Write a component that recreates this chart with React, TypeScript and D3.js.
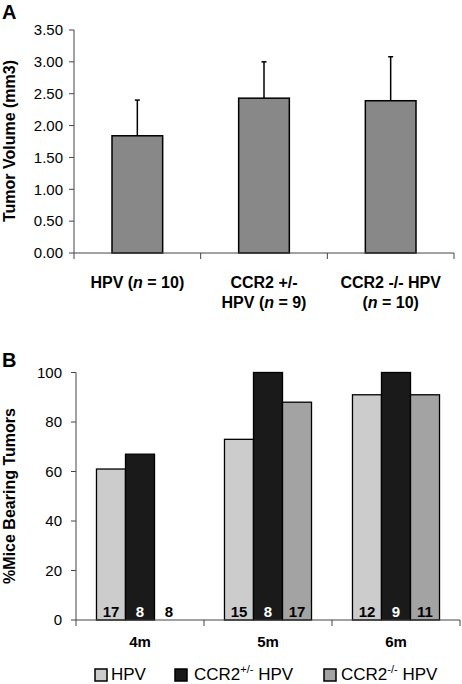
import React from "react";
import * as d3 from "d3";

const groupsA = ["HPV", "CCR2 +/- HPV", "CCR2 -/- HPV"];
const labelLinesA: [string, string, string][][] = [
  [["HPV (", "n", " = 10)"]],
  [["CCR2 +/-", "", ""], ["HPV (", "n", " = 9)"]],
  [["CCR2 -/- HPV", "", ""], ["(", "n", " = 10)"]],
];
const volumeMean = [1.84, 2.43, 2.39];
const volumeErr = [0.56, 0.57, 0.69];
const ticksA = [0, 0.5, 1, 1.5, 2, 2.5, 3, 3.5];

const months = ["4m", "5m", "6m"];
const seriesB = ["HPV", "CCR2+/- HPV", "CCR2-/- HPV"];
const pctHPV = [61, 73, 91];
const pctHet = [67, 100, 100];
const pctKO = [0, 88, 91];
const nHPV = [17, 15, 12];
const nHet = [8, 8, 9];
const nKO = [8, 17, 11];
const ticksB = [0, 20, 40, 60, 80, 100];

const colorsB = ["#cccccc", "#1a1a1a", "#a3a3a3"];
const FONT = "Arial, 'Liberation Sans', sans-serif";

export default function App() {
  // Chart A
  const yA = d3.scaleLinear().domain([0, 3.5]).range([253, 30]);
  const xA = d3.scaleBand().domain(groupsA).range([74, 454]).padding(0);
  const barWA = xA.bandwidth() * 0.4;
  const axisColor = "#444";

  // Chart B
  const yB = d3.scaleLinear().domain([0, 100]).range([620, 372.5]);
  const xB = d3.scaleBand().domain(months).range([76, 460]).paddingInner(0.32).paddingOuter(0.16);
  const xB1 = d3.scaleBand().domain(seriesB).range([0, xB.bandwidth()]);
  const stepB = xB.step();
  const valsB = [pctHPV, pctHet, pctKO];
  const nsB = [nHPV, nHet, nKO];

  return (
    <svg width={462} height={684} style={{ position: "absolute", left: 0, top: 0, background: "#fff" }} fontFamily={FONT}>
      {/* Panel A */}
      <text x={2} y={19} fontSize={20} fontWeight="bold">A</text>
      <text transform="translate(15,141) rotate(-90)" textAnchor="middle" fontSize={16} fontWeight="bold">Tumor Volume (mm3)</text>
      <line x1={74} x2={74} y1={yA(3.5)} y2={yA(0)} stroke={axisColor} strokeWidth={1} />
      {ticksA.map((t) => (
        <g key={t}>
          <line x1={69} x2={74} y1={yA(t)} y2={yA(t)} stroke={axisColor} />
          <text x={63} y={yA(t)} dy="0.35em" textAnchor="end" fontSize={15}>{t.toFixed(2)}</text>
        </g>
      ))}
      {groupsA.map((g, i) => {
        const cx = (xA(g) as number) + xA.bandwidth() / 2;
        return (
          <g key={g}>
            <line x1={cx} x2={cx} y1={yA(volumeMean[i])} y2={yA(volumeMean[i] + volumeErr[i])} stroke="#000" strokeWidth={1.5} />
            <line x1={cx - 2.5} x2={cx + 2.5} y1={yA(volumeMean[i] + volumeErr[i])} y2={yA(volumeMean[i] + volumeErr[i])} stroke="#000" strokeWidth={1.5} />
            <rect x={cx - barWA / 2} y={yA(volumeMean[i])} width={barWA} height={yA(0) - yA(volumeMean[i])} fill="#888888" stroke="#000" strokeWidth={1.5} />
            {labelLinesA[i].map((ln, j) => (
              <text key={j} x={cx} y={288 + j * 20} textAnchor="middle" fontSize={16} fontWeight="bold">
                {ln[0]}
                {ln[1] ? <tspan fontStyle="italic">{ln[1]}</tspan> : null}
                {ln[2]}
              </text>
            ))}
          </g>
        );
      })}
      <line x1={74} x2={454} y1={yA(0)} y2={yA(0)} stroke={axisColor} />
      {[0, 1, 2, 3].map((k) => (
        <line key={k} x1={74 + k * xA.step()} x2={74 + k * xA.step()} y1={yA(0)} y2={yA(0) + 6} stroke={axisColor} />
      ))}

      {/* Panel B */}
      <text x={2} y={367} fontSize={20} fontWeight="bold">B</text>
      <text transform="translate(15,496) rotate(-90)" textAnchor="middle" fontSize={16} fontWeight="bold">%Mice Bearing Tumors</text>
      <line x1={76} x2={76} y1={yB(100)} y2={yB(0)} stroke={axisColor} />
      {ticksB.map((t) => (
        <g key={t}>
          <line x1={71} x2={76} y1={yB(t)} y2={yB(t)} stroke={axisColor} />
          <text x={62} y={yB(t)} dy="0.35em" textAnchor="end" fontSize={15}>{t}</text>
        </g>
      ))}
      {months.map((m, i) => (
        <g key={m} transform={`translate(${xB(m)},0)`}>
          {seriesB.map((s, k) => {
            const v = valsB[k][i];
            const x = xB1(s) as number;
            return (
              <g key={s}>
                {v > 0 ? (
                  <rect x={x} y={yB(v)} width={xB1.bandwidth()} height={yB(0) - yB(v)} fill={colorsB[k]} stroke="#000" strokeWidth={1.3} />
                ) : null}
                <text x={x + xB1.bandwidth() / 2} y={617} textAnchor="middle" fontSize={15} fontWeight="bold" fill={k === 1 && v > 0 ? "#fff" : "#000"}>
                  {nsB[k][i]}
                </text>
              </g>
            );
          })}
          <text x={xB.bandwidth() / 2} y={647} textAnchor="middle" fontSize={15} fontWeight="bold">{m}</text>
        </g>
      ))}
      <line x1={76} x2={460} y1={yB(0)} y2={yB(0)} stroke={axisColor} />
      {[0, 1, 2, 3].map((k) => (
        <line key={k} x1={76 + k * stepB} x2={76 + k * stepB} y1={yB(0)} y2={yB(0) + 6} stroke={axisColor} />
      ))}

      {/* Legend */}
      {[
        { x: 95, tx: 111, main: "HPV", sup: "", rest: "" },
        { x: 175, tx: 194, main: "CCR2", sup: "+/-", rest: " HPV" },
        { x: 324, tx: 341, main: "CCR2", sup: "-/-", rest: " HPV" },
      ].map((it, k) => (
        <g key={k}>
          <rect x={it.x} y={669} width={12} height={12} fill={colorsB[k]} stroke="#000" strokeWidth={1.5} />
          <text x={it.tx} y={680} fontSize={17}>
            {it.main}
            {it.sup ? <tspan fontSize={11} dy={-7}>{it.sup}</tspan> : null}
            {it.rest ? <tspan dy={it.sup ? 7 : 0}>{it.rest}</tspan> : null}
          </text>
        </g>
      ))}
    </svg>
  );
}
